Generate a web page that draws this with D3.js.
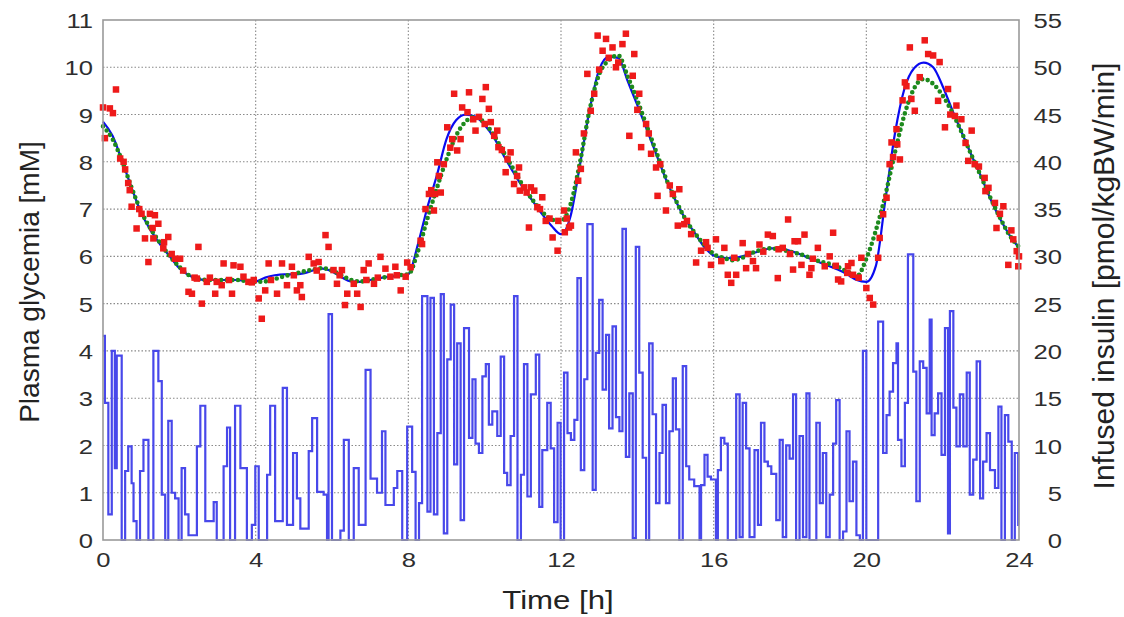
<!DOCTYPE html>
<html>
<head>
<meta charset="utf-8">
<script src="https://cdn.jsdelivr.net/npm/d3@7"></script>
<style>
  body { margin: 0; background: #fff; }
  svg { display: block; }
  text { font-family: "Liberation Sans", Arial, sans-serif; }
</style>
</head>
<body>
<svg id="chart" width="1124" height="617"></svg>
<script>
// ---- axis ticks ----
const timeTicks = [0, 4, 8, 12, 16, 20, 24];
const glucoseTicks = [0, 1, 2, 3, 4, 5, 6, 7, 8, 9, 10, 11];
const insulinTicks = [0, 5, 10, 15, 20, 25, 30, 35, 40, 45, 50, 55];

// ---- plasma glucose (solid blue) and model estimate (green dots), mM ----
const glucoseTimes = [
  0, 0.25, 0.5, 0.75, 1, 1.25, 1.5, 1.75, 2, 2.25, 2.5, 2.75,
  3, 3.25, 3.5, 3.75, 4, 4.25, 4.5, 4.75, 5, 5.25, 5.5, 5.75,
  6, 6.25, 6.5, 6.75, 7, 7.25, 7.5, 7.75, 8, 8.25, 8.5, 8.75,
  9, 9.25, 9.5, 9.75, 10, 10.25, 10.5, 10.75, 11, 11.25, 11.5, 11.75,
  12, 12.25, 12.5, 12.75, 13, 13.25, 13.5, 13.75, 14, 14.25, 14.5, 14.75,
  15, 15.25, 15.5, 15.75, 16, 16.25, 16.5, 16.75, 17, 17.25, 17.5, 17.75,
  18, 18.25, 18.5, 18.75, 19, 19.25, 19.5, 19.75, 20, 20.25, 20.5, 20.75,
  21, 21.25, 21.5, 21.75, 22, 22.25, 22.5, 22.75, 23, 23.25, 23.5, 23.75, 24
];
const plasmaGlucose = [
  8.85, 8.55, 8.02, 7.45, 6.92, 6.55, 6.25, 6.00, 5.75, 5.60, 5.52, 5.50,
  5.50, 5.50, 5.50, 5.48, 5.47, 5.55, 5.60, 5.62, 5.62, 5.64, 5.70, 5.74,
  5.68, 5.56, 5.47, 5.46, 5.50, 5.54, 5.57, 5.58, 5.62, 6.25, 7.04, 7.72,
  8.48, 8.88, 9.00, 8.96, 8.78, 8.50, 8.13, 7.78, 7.46, 7.18, 6.90, 6.65,
  6.47, 6.85, 7.95, 9.10, 9.95, 10.22, 10.20, 9.70, 9.20, 8.68, 8.15, 7.63,
  7.18, 6.80, 6.50, 6.20, 6.02, 5.97, 5.96, 6.00, 6.06, 6.12, 6.17, 6.17,
  6.12, 6.05, 5.96, 5.88, 5.80, 5.72, 5.62, 5.50, 5.46, 5.80, 7.20, 8.60,
  9.55, 9.98, 10.10, 10.00, 9.60, 9.10, 8.62, 8.15, 7.70, 7.22, 6.80, 6.45, 6.18
];
const estimatedGlucose = [
  8.75, 8.48, 8.02, 7.45, 6.95, 6.58, 6.28, 6.00, 5.78, 5.60, 5.52, 5.50,
  5.50, 5.50, 5.50, 5.48, 5.46, 5.47, 5.52, 5.58, 5.63, 5.68, 5.72, 5.75,
  5.70, 5.60, 5.50, 5.47, 5.50, 5.54, 5.57, 5.60, 5.62, 6.10, 6.80, 7.45,
  8.05, 8.55, 8.85, 8.95, 8.82, 8.55, 8.20, 7.85, 7.50, 7.20, 6.95, 6.78,
  6.75, 7.10, 8.00, 9.10, 9.85, 10.15, 10.25, 9.80, 9.30, 8.75, 8.20, 7.65,
  7.20, 6.80, 6.50, 6.25, 6.05, 5.97, 5.92, 5.97, 6.07, 6.14, 6.17, 6.14,
  6.10, 6.05, 5.98, 5.90, 5.85, 5.78, 5.68, 5.58, 5.95, 6.55, 7.30, 8.20,
  9.00, 9.55, 9.75, 9.65, 9.40, 9.05, 8.62, 8.15, 7.70, 7.24, 6.82, 6.45, 6.20
];

// ---- sensor readings (red squares), mM ----
const sensorTimes = [
  0.00, 0.05, 0.18, 0.26, 0.34, 0.45, 0.54, 0.58, 0.66, 0.70, 0.75, 0.88, 0.95,
  1.01, 1.10, 1.19, 1.23, 1.30, 1.32, 1.36, 1.45, 1.58, 1.60, 1.71, 1.80, 1.89,
  2.02, 2.10, 2.24, 2.33, 2.40, 2.46, 2.50, 2.59, 2.72, 2.80, 2.94, 2.98, 3.11,
  3.16, 3.30, 3.38, 3.42, 3.60, 3.68, 3.81, 3.90, 3.95, 4.08, 4.16, 4.25, 4.34,
  4.40, 4.56, 4.69, 4.82, 4.95, 5.00, 5.08, 5.17, 5.21, 5.39, 5.52, 5.60, 5.65,
  5.74, 5.83, 5.91, 6.04, 6.13, 6.20, 6.26, 6.34, 6.40, 6.57, 6.66, 6.75, 6.83,
  6.90, 6.96, 7.10, 7.20, 7.27, 7.40, 7.53, 7.66, 7.70, 7.80, 7.93, 7.97, 8.06,
  8.32, 8.36, 8.45, 8.54, 8.60, 8.67, 8.70, 8.76, 8.80, 8.85, 8.93, 9.02, 9.10,
  9.15, 9.20, 9.28, 9.37, 9.41, 9.55, 9.59, 9.70, 9.76, 9.85, 9.94, 10.00, 10.03,
  10.11, 10.16, 10.25, 10.33, 10.36, 10.45, 10.55, 10.60, 10.68, 10.77, 10.85,
  10.90, 10.92, 11.03, 11.10, 11.16, 11.21, 11.30, 11.38, 11.45, 11.51, 11.60,
  11.70, 11.78, 11.91, 11.93, 12.08, 12.10, 12.15, 12.21, 12.26, 12.39, 12.45,
  12.52, 12.60, 12.69, 12.78, 12.87, 12.96, 13.00, 13.09, 13.18, 13.25, 13.35,
  13.44, 13.50, 13.61, 13.70, 13.79, 13.88, 13.92, 14.00, 14.05, 14.10, 14.23,
  14.30, 14.36, 14.49, 14.53, 14.60, 14.75, 14.85, 14.93, 15.06, 15.10, 15.23,
  15.30, 15.41, 15.54, 15.67, 15.80, 15.84, 15.93, 16.06, 16.20, 16.28, 16.37,
  16.46, 16.54, 16.59, 16.76, 16.85, 16.90, 17.03, 17.11, 17.20, 17.30, 17.42,
  17.55, 17.68, 17.70, 17.81, 17.95, 18.00, 18.08, 18.12, 18.21, 18.30, 18.38,
  18.51, 18.56, 18.60, 18.73, 18.91, 19.04, 19.13, 19.20, 19.26, 19.34, 19.50,
  19.52, 19.61, 19.65, 19.80, 19.87, 20.00, 20.09, 20.18, 20.31, 20.35, 20.44,
  20.53, 20.61, 20.66, 20.70, 20.79, 20.81, 20.88, 20.95, 21.01, 21.05, 21.14,
  21.18, 21.27, 21.40, 21.53, 21.62, 21.75, 21.88, 21.92, 22.06, 22.14, 22.20,
  22.32, 22.36, 22.49, 22.60, 22.67, 22.76, 22.84, 22.95, 23.10, 23.12, 23.20,
  23.37, 23.41, 23.50, 23.59, 23.72, 23.80, 23.85, 23.94, 23.98, 24.00
];
const sensorGlucose = [
  9.15, 8.50, 9.13, 9.03, 9.53, 8.07, 8.00, 7.84, 7.55, 7.40, 7.05, 6.59, 7.00,
  6.90, 6.38, 5.88, 6.90, 6.60, 6.38, 6.87, 6.69, 6.17, 6.30, 6.41, 6.05, 5.95,
  5.95, 5.70, 5.25, 5.21, 5.55, 5.53, 6.20, 5.00, 5.46, 5.55, 5.21, 5.46, 5.39,
  5.85, 5.50, 5.21, 5.81, 5.78, 5.57, 5.46, 5.45, 5.50, 5.11, 4.68, 5.28, 5.85,
  5.50, 5.21, 5.85, 5.39, 5.78, 5.60, 5.28, 5.39, 5.14, 5.99, 5.85, 5.70, 5.88,
  5.57, 6.45, 6.20, 5.71, 5.42, 5.60, 5.71, 4.97, 5.21, 5.42, 5.21, 4.93, 5.71,
  5.50, 5.85, 5.42, 5.55, 5.99, 5.74, 5.57, 5.78, 5.60, 5.28, 5.57, 5.87, 5.77,
  6.33, 6.26, 7.00, 7.32, 7.40, 6.97, 7.32, 7.99, 7.70, 7.35, 7.95, 8.73, 8.30,
  8.48, 9.44, 8.24, 8.48, 9.15, 9.05, 9.47, 8.90, 8.66, 8.95, 9.33, 8.80, 9.58,
  9.12, 8.84, 8.55, 8.66, 8.31, 8.25, 7.78, 8.05, 8.20, 7.53, 7.70,
  7.88, 7.39, 7.46, 7.35, 6.61, 7.46, 7.39, 7.04, 7.00, 7.25, 6.75,
  6.80, 6.40, 6.12, 6.75, 6.97, 6.51, 6.80, 6.61, 6.65, 8.20, 7.60,
  7.85, 8.60, 9.86, 9.08, 9.44, 10.67, 9.95, 10.35, 10.60, 10.20, 10.42,
  10.00, 10.10, 10.49, 10.71, 8.55, 9.82, 10.28, 9.10, 9.44, 8.31, 8.80,
  8.60, 8.17, 7.88, 7.28, 7.95, 6.97, 7.50, 7.32, 6.65, 7.42, 6.68,
  6.75, 6.47, 5.87, 6.12, 6.30, 6.18, 5.82, 6.36, 5.90, 6.18, 5.61,
  5.44, 5.97, 5.61, 6.28, 5.75, 6.05, 5.90, 5.75, 6.25, 6.10, 6.46,
  6.43, 5.54, 6.15, 6.18, 6.78, 6.05, 5.72, 6.32, 6.32, 5.82, 6.46,
  5.61, 5.75, 5.95, 6.18, 5.79, 6.00, 6.50, 5.80, 5.51, 5.47, 5.65,
  5.79, 5.86, 5.61, 5.55, 5.97, 5.33, 5.12, 4.98, 5.97, 6.39, 6.89,
  7.24, 7.95, 8.41, 8.10, 8.69, 8.37, 8.05, 9.30, 9.68, 9.60, 10.42,
  9.33, 9.08, 9.79, 10.57, 10.28, 10.25, 9.29, 10.11, 8.73, 9.54, 9.00,
  8.97, 9.19, 8.90, 8.40, 8.02, 8.66, 7.95, 7.90, 7.66, 7.38, 7.45,
  7.13, 6.60, 6.90, 7.06, 5.82, 6.55, 6.36, 6.11, 5.79, 6.00
];

// ---- infused insulin, pmol/kgBW/min, piecewise constant from each time ----
const insulinTimes = [
  0, 0.05, 0.14, 0.23, 0.31, 0.36, 0.49, 0.58, 0.66, 0.75, 0.80, 0.88, 0.97, 1.06,
  1.19, 1.32, 1.45, 1.54, 1.63, 1.71, 1.80, 1.89, 1.98, 2.06, 2.15, 2.24, 2.46, 2.55,
  2.68, 2.90, 2.98, 3.16, 3.25, 3.33, 3.46, 3.60, 3.77, 3.90, 3.99, 4.08, 4.30, 4.38,
  4.51, 4.71, 4.82, 4.98, 5.08, 5.17, 5.39, 5.48, 5.61, 5.78, 5.87, 5.91, 6.00, 6.22,
  6.31, 6.44, 6.57, 6.70, 6.88, 7.01, 7.18, 7.31, 7.40, 7.62, 7.71, 7.84,
  7.97, 8.10, 8.19, 8.28, 8.36, 8.50, 8.58, 8.67, 8.76, 8.85, 8.93, 9.02, 9.11, 9.20,
  9.28, 9.37, 9.46, 9.59, 9.68, 9.76, 9.85, 9.94, 10.03, 10.11, 10.20, 10.33, 10.42,
  10.51, 10.59, 10.68, 10.77, 10.86, 10.95, 11.03, 11.12, 11.21, 11.34, 11.43, 11.51,
  11.64, 11.73, 11.82, 11.91, 11.99, 12.08, 12.17, 12.26, 12.35, 12.43, 12.52, 12.61,
  12.69, 12.83, 12.91, 13.00, 13.09, 13.18, 13.26, 13.35, 13.44, 13.53, 13.61, 13.70,
  13.79, 13.88, 13.96, 14.05, 14.14, 14.23, 14.31, 14.40, 14.49, 14.58, 14.66, 14.75,
  14.84, 14.93, 15.01, 15.10, 15.19, 15.28, 15.36, 15.49, 15.63,
  15.67, 15.76, 15.84, 15.93, 16.06, 16.11, 16.19, 16.28, 16.37, 16.59, 16.68, 16.76,
  16.85, 16.94, 17.07, 17.16, 17.24, 17.33, 17.42, 17.51, 17.64, 17.73, 17.81, 17.90,
  17.99, 18.08, 18.16, 18.25, 18.34, 18.43, 18.51, 18.69, 18.78, 18.86, 18.95, 19.04,
  19.13, 19.21, 19.30, 19.39, 19.48, 19.56, 19.65, 19.74, 19.83, 19.91, 20.00, 20.31,
  20.44, 20.53, 20.61, 20.70, 20.79, 20.83, 20.92, 21.01, 21.09, 21.23, 21.31, 21.40,
  21.49, 21.58, 21.66, 21.71, 21.79, 21.88, 21.97, 22.06, 22.14, 22.19, 22.28, 22.36,
  22.45, 22.54, 22.63, 22.71, 22.80, 22.89, 22.98, 23.06, 23.15, 23.24, 23.37, 23.46,
  23.54, 23.63, 23.72, 23.81, 23.89, 23.98, 24.00
];
const insulinRates = [
  21.6, 14.5, 2.7, 20.0, 7.6, 19.5, 0.0, 7.3, 9.9, 6.0, 2.0, 0.0, 7.3, 10.6,
  0.0, 20.0, 16.8, 4.8, 0.0, 12.6, 5.0, 4.4, 0.0, 7.6, 2.7, 0.5, 9.9, 14.2,
  2.0, 4.0, 0.0, 7.8, 11.9, 0.0, 14.2, 7.6, 0.0, 1.6, 7.8, 0.0, 6.9, 14.2,
  2.0, 16.1, 1.6, 9.2, 4.4, 1.2, 9.4, 12.9, 5.1, 4.8, 0.0, 23.9, 0.0, 1.0,
  10.6, 0.0, 7.6, 1.6, 18.0, 6.5, 5.0, 11.5, 3.7, 5.5, 7.3, 0.0,
  12.0, 7.2, 0.0, 3.9, 25.8, 3.0, 25.6, 2.7, 11.3, 26.0, 0.7, 19.1, 24.9, 8.0,
  20.8, 2.1, 22.4, 10.8, 17.0, 10.2, 9.2, 17.3, 18.6, 12.2, 13.6, 11.0, 19.4,
  7.1, 5.8, 11.0, 25.8, 0.0, 6.9, 18.6, 4.6, 15.4, 19.6, 3.5, 9.5,
  14.5, 9.7, 1.9, 12.4, 0.0, 17.7, 11.3, 10.6, 12.7, 27.7, 7.4, 17.0,
  33.4, 5.3, 19.8, 25.4, 15.9, 21.7, 11.8, 22.6, 13.0, 11.5, 32.9, 8.8,
  15.5, 0.2, 31.0, 17.7, 8.7, 0.0, 20.8, 13.3, 3.9, 9.2, 14.3, 3.9,
  11.5, 17.1, 11.7, 0.0, 18.4, 7.8, 6.4, 5.7, 0.0,
  5.8, 9.0, 6.7, 6.4, 0.0, 7.4, 10.8, 10.2, 0.0, 15.4, 0.3, 14.5,
  9.7, 0.3, 9.5, 1.6, 12.4, 8.3, 7.8, 7.0, 2.1, 10.6, 0.3, 10.0,
  8.6, 15.4, 0.0, 11.0, 0.3, 15.5, 0.0, 12.4, 3.9, 9.2, 0.3, 4.8,
  10.2, 14.8, 0.0, 0.9, 11.5, 4.1, 8.3, 0.5, 0.0, 20.0, 0.0, 23.1,
  9.2, 13.2, 15.7, 18.7, 20.8, 10.6, 7.8, 14.5, 30.2, 17.8, 4.1, 18.9,
  18.2, 13.4, 23.3, 11.1, 13.4, 15.5, 9.0, 22.4, 0.7, 24.2, 14.0, 9.9,
  15.4, 9.9, 17.7, 4.8, 8.5, 18.9, 4.4, 8.3, 11.3, 7.4, 5.5, 14.1,
  0.0, 13.2, 10.4, 0.0, 9.2, 1.6, 1.6
];

// ---- layout ----
const svg = d3.select("#chart");
const plot = { left: 103, right: 1019, top: 20, bottom: 540 };
const x = d3.scaleLinear().domain([0, 24]).range([plot.left, plot.right]);
const yG = d3.scaleLinear().domain([0, 11]).range([plot.bottom, plot.top]);
const yI = d3.scaleLinear().domain([0, 55]).range([plot.bottom, plot.top]);
const TEXT = "#2e2e2e";
const STRETCH = 1.22;

// dotted grid
const grid = svg.append("g").attr("stroke", "#7e7e7e").attr("stroke-width", 1.1)
  .attr("stroke-dasharray", "1.5 2").attr("opacity", 0.9);
grid.selectAll("line.h").data(glucoseTicks.filter(d => d > 0 && d < 11)).join("line")
  .attr("x1", plot.left).attr("x2", plot.right)
  .attr("y1", d => yG(d)).attr("y2", d => yG(d));
grid.selectAll("line.v").data(timeTicks.filter(d => d > 0 && d < 24)).join("line")
  .attr("y1", plot.top).attr("y2", plot.bottom)
  .attr("x1", d => x(d)).attr("x2", d => x(d));

// insulin infusion (step line on right axis)
const insulinData = insulinTimes.map((t, i) => [t, insulinRates[i]]);
svg.append("path")
  .datum(insulinData)
  .attr("fill", "none")
  .attr("stroke", "#4848ea")
  .attr("stroke-width", 2.2)
  .attr("d", d3.line().x(d => x(d[0])).y(d => yI(d[1])).curve(d3.curveStepAfter));

// plasma glucose (solid blue)
const modelLine = d3.line().x(d => x(d[0])).y(d => yG(d[1])).curve(d3.curveMonotoneX);
svg.append("path")
  .datum(glucoseTimes.map((t, i) => [t, plasmaGlucose[i]]))
  .attr("fill", "none").attr("stroke", "#0a0af0").attr("stroke-width", 2.2)
  .attr("d", modelLine);

// estimate (green dotted)
svg.append("path")
  .datum(glucoseTimes.map((t, i) => [t, estimatedGlucose[i]]))
  .attr("fill", "none").attr("stroke", "#1d8a1d").attr("stroke-width", 4.6)
  .attr("stroke-linecap", "round").attr("stroke-dasharray", "0 5.6")
  .attr("d", modelLine);

// sensor readings (red squares)
const sq = 6.5;
svg.append("g").attr("fill", "#ee1a1a")
  .selectAll("rect").data(sensorTimes.map((t, i) => [t, sensorGlucose[i]])).join("rect")
  .attr("x", d => x(d[0]) - sq / 2).attr("y", d => yG(d[1]) - sq / 2)
  .attr("width", sq).attr("height", sq);

// frame
svg.append("rect")
  .attr("x", plot.left).attr("y", plot.top)
  .attr("width", plot.right - plot.left).attr("height", plot.bottom - plot.top)
  .attr("fill", "none").attr("stroke", "#9a9a9a").attr("stroke-width", 1.6);

// axes
function styleTicks(g, dx, anchor, dy) {
  g.select(".domain").remove();
  g.selectAll("line").remove();
  g.selectAll("text")
    .attr("x", 0).attr("y", 0).attr("dy", dy)
    .attr("text-anchor", anchor)
    .attr("fill", TEXT)
    .style("font-size", "21px")
    .attr("transform", `translate(${dx},0) scale(${STRETCH},1)`);
}
svg.append("g").attr("transform", `translate(${plot.left},0)`)
  .call(d3.axisLeft(yG).tickValues(glucoseTicks).tickFormat(d3.format("d")))
  .call(g => styleTicks(g, -10, "end", "0.36em"));
svg.append("g").attr("transform", `translate(${plot.right},0)`)
  .call(d3.axisRight(yI).tickValues(insulinTicks).tickFormat(d3.format("d")))
  .call(g => styleTicks(g, 43, "end", "0.36em"));
const xAxis = svg.append("g").attr("transform", `translate(0,${plot.bottom})`)
  .call(d3.axisBottom(x).tickValues(timeTicks).tickFormat(d3.format("d")));
xAxis.select(".domain").remove();
xAxis.selectAll("line").remove();
xAxis.selectAll("text")
  .attr("x", 0).attr("y", 0).attr("dy", 0)
  .attr("text-anchor", "middle").attr("fill", TEXT).style("font-size", "21px")
  .attr("transform", `translate(0,27) scale(${STRETCH},1)`);

// axis titles
svg.append("text")
  .attr("transform", `translate(558,609) scale(1.2,1)`)
  .attr("text-anchor", "middle").attr("fill", "#222").style("font-size", "26px")
  .text("Time [h]");
svg.append("text")
  .attr("transform", "translate(39,282) rotate(-90)")
  .attr("text-anchor", "middle").attr("fill", "#222").style("font-size", "28px")
  .text("Plasma glycemia [mM]");
svg.append("text")
  .attr("transform", "translate(1114,276) rotate(-90)")
  .attr("text-anchor", "middle").attr("fill", "#222").style("font-size", "30px")
  .text("Infused insulin [pmol/kgBW/min]");
</script>
</body>
</html>
